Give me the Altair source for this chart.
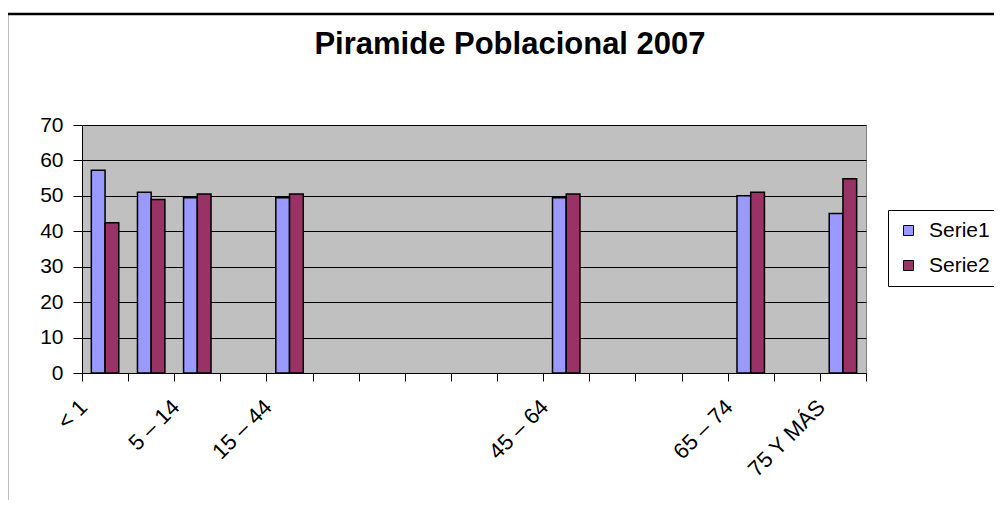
import json
import altair as alt
import pandas as pd

# ---- data ----
categories = ["< 1", "1 – 4", "5 – 14", "", "15 – 44", "", "", "", "", "",
              "45 – 64", "", "", "", "65 – 74", "", "75 Y MÁS"]
serie1 = [57.2, 51.0, 49.5, None, 49.5, None, None, None, None, None,
          49.5, None, None, None, 50.0, None, 45.0]
serie2 = [42.4, 49.0, 50.5, None, 50.5, None, None, None, None, None,
          50.5, None, None, None, 51.0, None, 54.8]
series_names = ["Serie1", "Serie2"]
series_colors = ["#9999FF", "#993366"]
y_ticks = [0, 10, 20, 30, 40, 50, 60, 70]
title_text = "Piramide Poblacional 2007"

# Excel shows every second category label
shown_labels = [c if i % 2 == 0 else "" for i, c in enumerate(categories)]

rows = []
for i, (a, b) in enumerate(zip(serie1, serie2)):
    rows.append({"pos": i, "serie": series_names[0], "valor": a})
    rows.append({"pos": i, "serie": series_names[1], "valor": b})
df = pd.DataFrame(rows)

FONT = "Liberation Sans"
label_expr = json.dumps(shown_labels, ensure_ascii=False) + "[datum.value]"

bars = alt.Chart(df).mark_bar(stroke="black", strokeWidth=1.5, opacity=1).encode(
    x=alt.X("pos:O", title=None,
            scale=alt.Scale(domain=list(range(len(categories))), paddingInner=0, paddingOuter=0),
            axis=alt.Axis(labelExpr=label_expr, labelAngle=-45, labelFontSize=22,
                          labelFont=FONT, labelColor="black", labelPadding=15,
                          labelOffset=-29,
                          tickBand="extent",
                          tickColor="black", tickSize=8, domainColor="black",
                          domainWidth=1, grid=False, labelOverlap=False,
                          labelBound=False, labelFlush=False)),
    xOffset=alt.XOffset("serie:N", sort=series_names,
                        scale=alt.Scale(paddingInner=0, paddingOuter=0.68)),
    y=alt.Y("valor:Q", title=None,
            scale=alt.Scale(domain=[0, 70], nice=False),
            axis=alt.Axis(values=y_ticks, labelFontSize=21, labelFont=FONT,
                          labelColor="black", labelPadding=10, tickSize=9,
                          tickColor="black", domainColor="black",
                          gridColor="black", gridWidth=1, gridOpacity=1)),
    color=alt.Color("serie:N", sort=series_names,
                    scale=alt.Scale(domain=series_names, range=series_colors),
                    legend=alt.Legend(title=None, orient="none", legendX=806, legendY=85,
                                      strokeColor="black", fillColor="white",
                                      padding=10, symbolType="square", symbolSize=100,
                                      symbolStrokeColor="black", symbolStrokeWidth=1,
                                      symbolOpacity=1, labelFontSize=21, labelFont=FONT,
                                      labelColor="black", labelOffset=10, rowPadding=13,
                                      labelLimit=200)),
)

frame = alt.Chart(pd.DataFrame({"k": [0]})).mark_rect(
    fill="white", fillOpacity=0, stroke="black", strokeWidth=2.5
).encode(
    x=alt.value(-75), x2=alt.value(940), y=alt.value(-111), y2=alt.value(420)
)

chart = alt.layer(frame, bars).properties(
    width=784, height=248,
    title=alt.TitleParams(title_text, anchor="middle", frame="group", dx=36,
                          offset=-72, baseline="alphabetic", fontSize=31, font=FONT,
                          fontWeight="bold", color="black"),
    autosize=alt.AutoSizeParams(type="none"),
    padding={"left": 74, "top": 117, "right": 128, "bottom": 127},
).configure(
    background="white",
    view=alt.ViewConfig(fill="#C0C0C0", stroke="#808080", strokeWidth=1),
)

chart.save("out.html", embed_options={"renderer": "svg", "actions": False})
